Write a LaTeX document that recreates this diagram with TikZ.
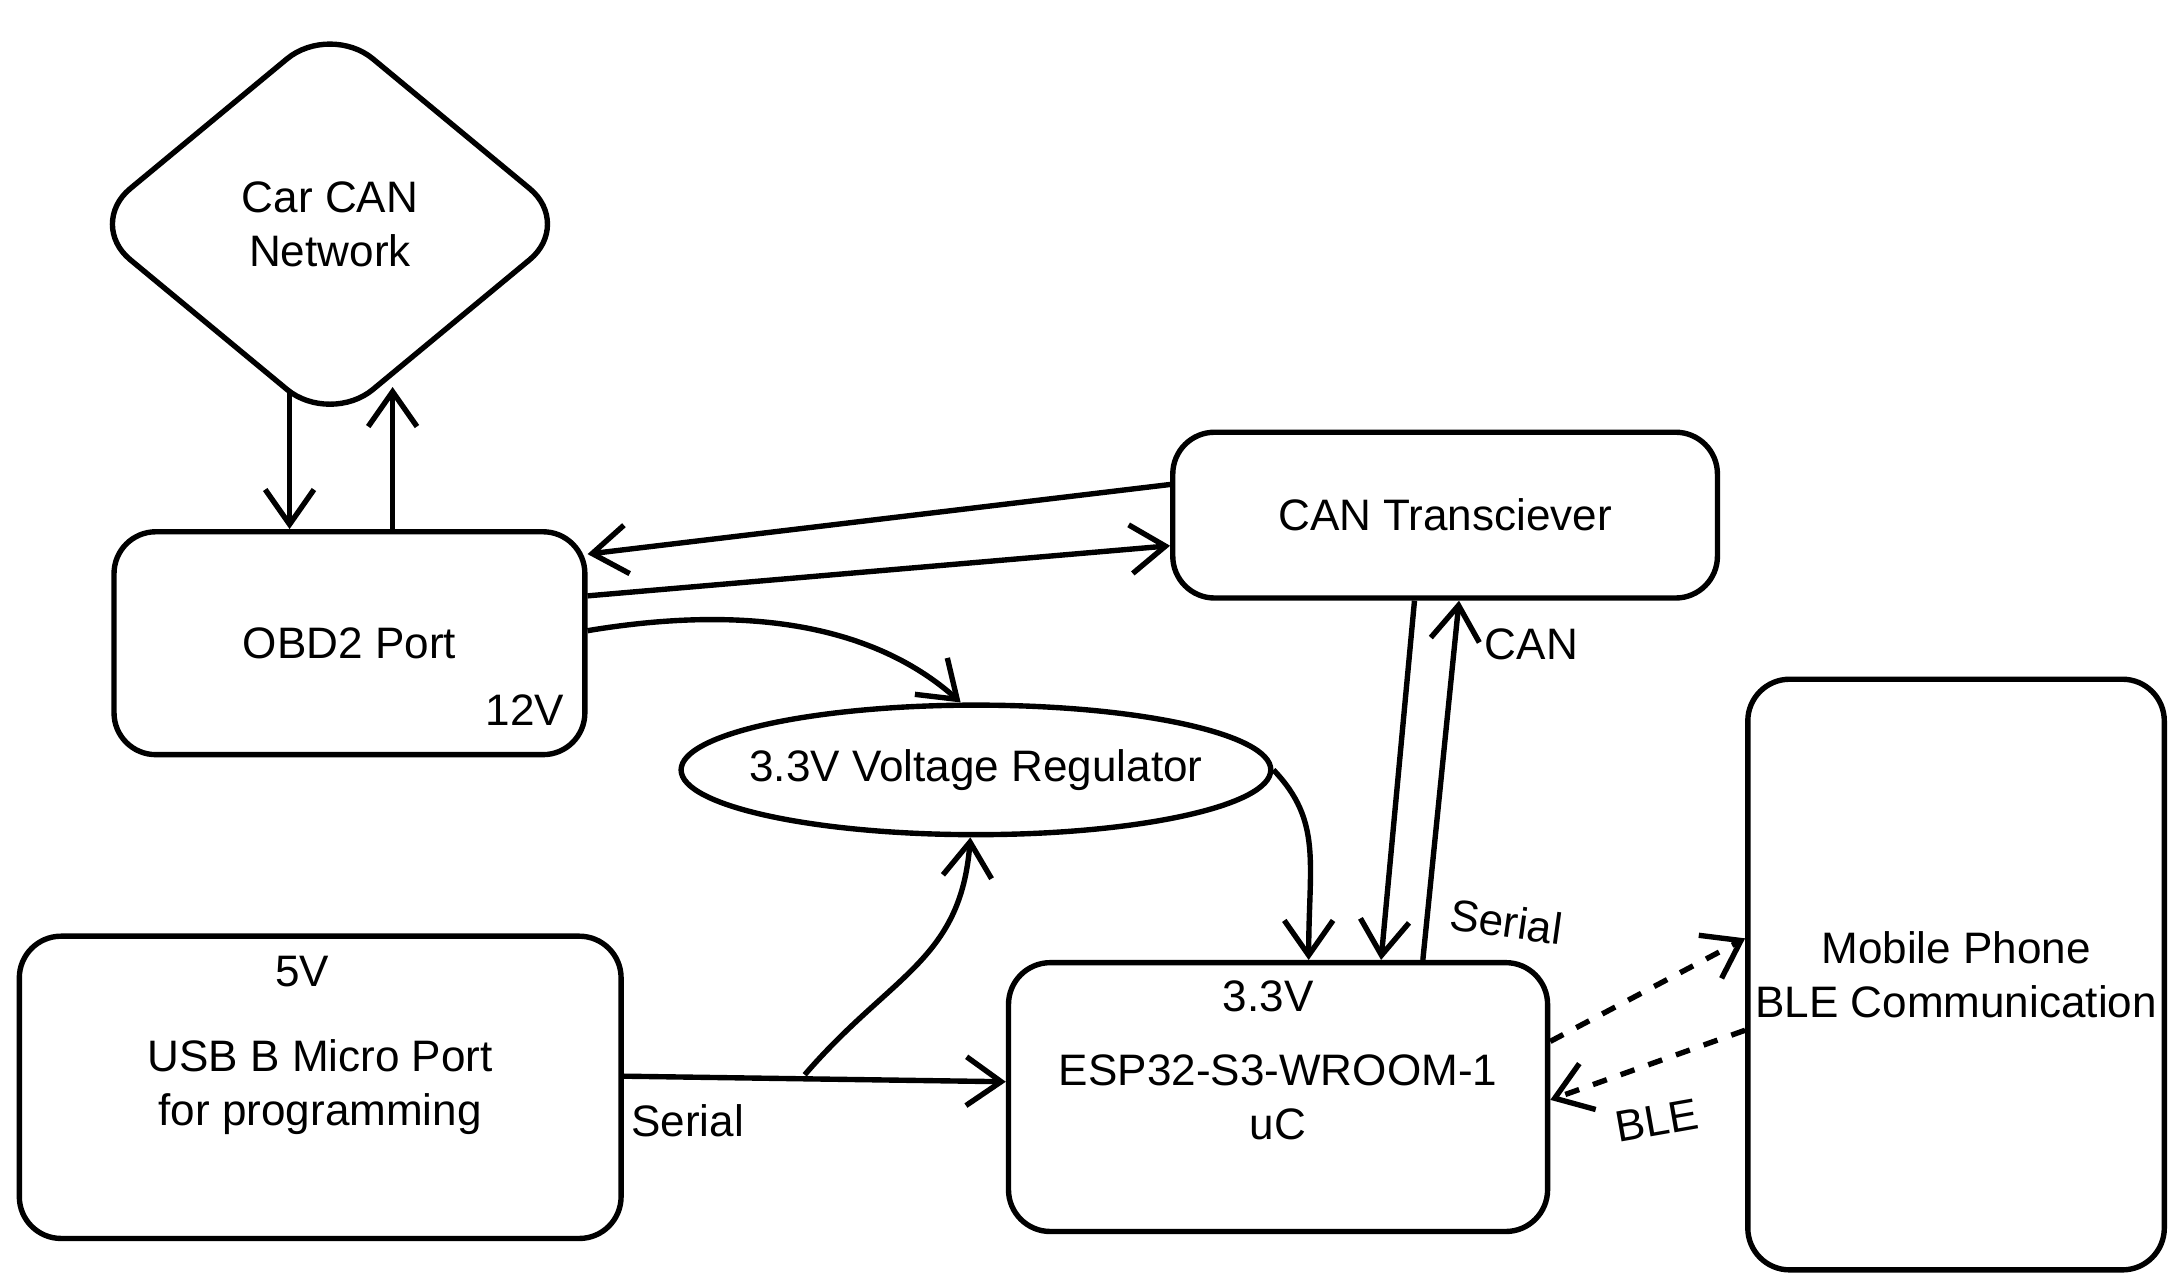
\documentclass[tikz,border=0pt]{standalone}
\usepackage{fontspec}
\setmainfont{Liberation Sans}
\usetikzlibrary{positioning,shapes.geometric,arrows.meta}
\begin{document}
\begin{tikzpicture}
    [
    x=0.01cm,y=-0.01cm,
    box/.style={draw,line width=1.1pt,rounded corners=0.3cm,font=\small,align=center},
    link/.style={line width=1.1pt,-{Straight Barb[length=2.5mm,width=3.5mm]}},
    tag/.style={font=\small},
    ]
    \useasboundingbox (0,0) rectangle (1568,924);
    \node (can) at (237,161) [box,diamond,minimum width=3.5cm,minimum height=2.9cm,inner sep=0pt,rounded corners=0.4cm] {Car CAN\\Network};
    \node (obd) at (251,462) [box,minimum width=3.38cm,minimum height=1.6cm] {OBD2 Port};
    \node (v12) at (377,510) [tag] {12V};
    \node (trx) at (1038,370) [box,minimum width=3.91cm,minimum height=1.19cm] {CAN Transciever};
    \node (reg) at (701,553) [box,ellipse,minimum width=4.22cm,minimum height=0.93cm,inner xsep=-0.13cm,inner ysep=0pt] {3.3V Voltage Regulator};
    \node (usb) at (230,781) [box,minimum width=4.32cm,minimum height=2.17cm] {USB B Micro Port\\for programming};
    \node (v5) at (217,698) [tag] {5V};
    \node (esp) at (918,788) [box,minimum width=3.87cm,minimum height=1.93cm] {ESP32-S3-WROOM-1\\uC};
    \node (v33) at (911,716) [tag] {3.3V};
    \node (phone) at (1405,700) [box,minimum width=2.99cm,minimum height=4.24cm,inner xsep=0.05cm] {Mobile Phone\\BLE Communication};

    \draw [link] (208,282) to (208,380);
    \draw [link] (282,380) to (282,278);
    \draw [link] (trx.west |- 0,348) to (obd.east |- 0,398);
    \draw [link] (obd.east |- 0,428) to (trx.west |- 0,392);
    \draw [link] (obd.east |- 0,453) .. controls (560,430) and (640,460) .. (reg.north -| 690,0);
    \draw [link] (reg.east) .. controls (950,590) and (940,620) .. (esp.north -| 940,0);
    \draw [link] (trx.south -| 1016,0) to (esp.north -| 992,0);
    \draw [link] (esp.north -| 1022,0) to (trx.south -| 1048,0);
    \node (lcan) at (1100,463) [tag] {CAN};
    \node (lser) at (1082,662) [tag,rotate=-8] {Serial};
    \coordinate (split) at (578,772);
    \draw [link] (usb.east |- 0,773) to (esp.west |- 0,777);
    \draw [link] (split) .. controls (640,700) and (690,690) .. (reg.south -| 697,0);
    \node (lser2) at (494,805) [tag] {Serial};
    \draw [link,dashed] (esp.east |- 0,748) to (phone.west |- 0,674);
    \draw [link,dashed] (phone.west |- 0,740) to (esp.east |- 0,790);
    \node (lble) at (1190,805) [tag,rotate=10] {BLE};
\end{tikzpicture}
\end{document}
